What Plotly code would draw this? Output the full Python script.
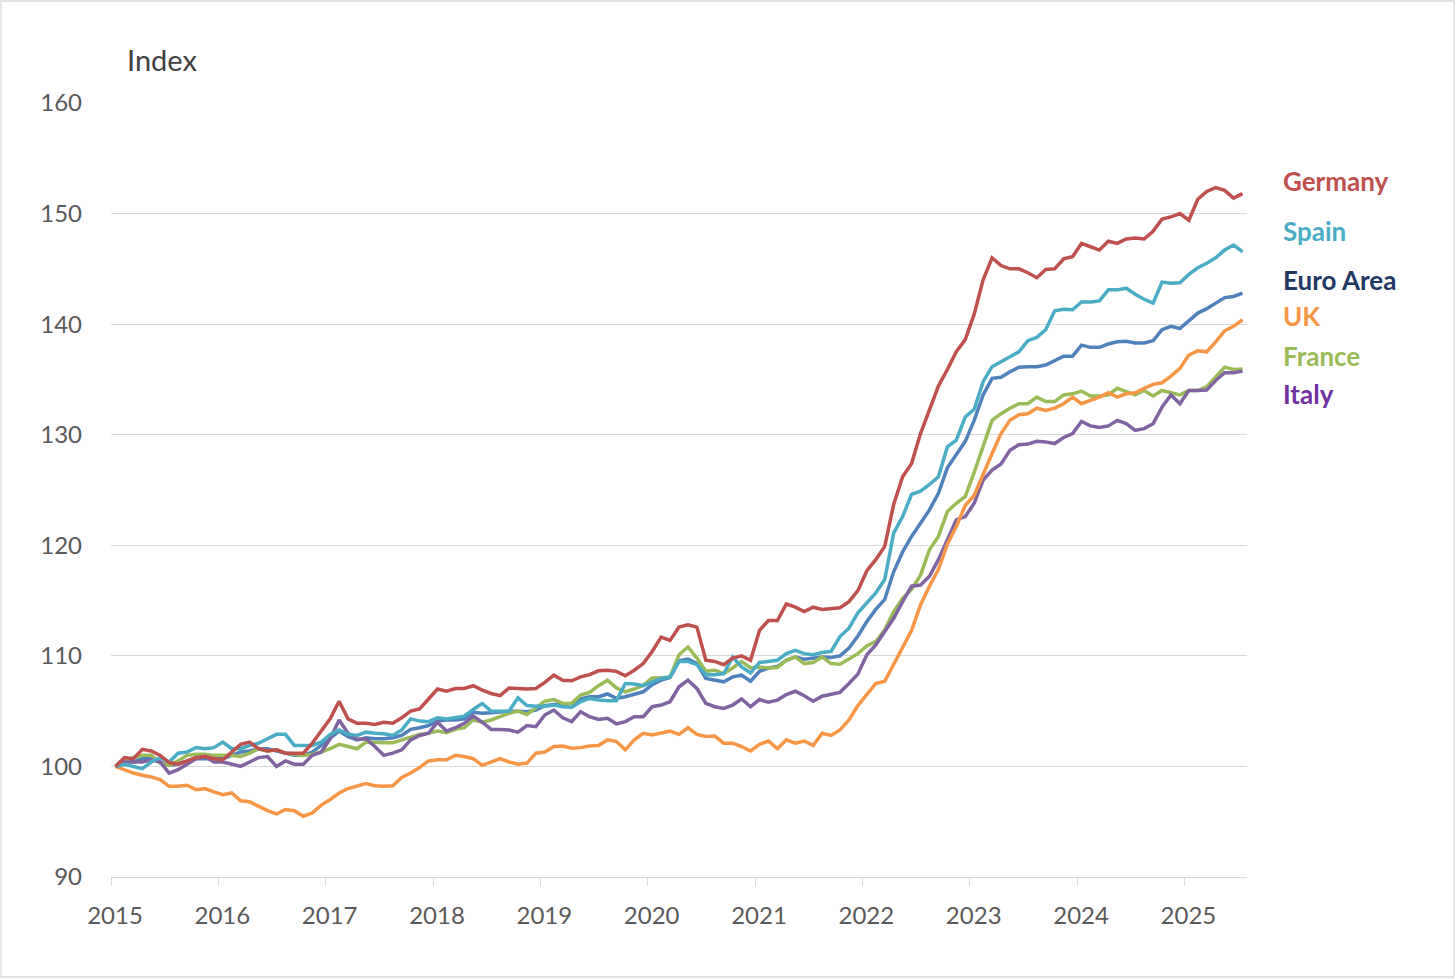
import plotly.graph_objects as go
import pandas as pd

months = pd.date_range("2015-01-01", periods=127, freq="MS")
years = [str(y) for y in range(2015, 2026)]

germany = [100.0, 100.8, 100.7, 101.55, 101.4, 101.0, 100.35, 100.2, 100.5, 100.8, 100.9, 100.7,
           100.6, 101.3, 102.0, 102.2, 101.6, 101.4, 101.5, 101.2, 101.2, 101.2, 102.1, 103.2,
           104.3, 105.9, 104.3, 103.9, 103.9, 103.8, 104.0, 103.9, 104.4, 105.0, 105.2, 106.1,
           107.0, 106.8, 107.05, 107.05, 107.3, 106.9, 106.6, 106.4, 107.1, 107.05, 107.0, 107.05,
           107.6, 108.25, 107.8, 107.75, 108.1, 108.3, 108.65, 108.7, 108.6, 108.2, 108.7, 109.3,
           110.4, 111.7, 111.4, 112.6, 112.8, 112.6, 109.6, 109.5, 109.2, 109.8, 110.0, 109.6,
           112.3, 113.2, 113.2, 114.7, 114.4, 114.0, 114.4, 114.2, 114.3, 114.35, 114.9, 115.9,
           117.7, 118.7, 119.9, 123.7, 126.2, 127.4, 130.1, 132.2, 134.4, 135.9, 137.5, 138.6,
           140.9, 144.0, 146.0, 145.3, 145.0, 145.0, 144.65, 144.2, 144.95, 145.0, 145.9, 146.1,
           147.3, 147.0, 146.7, 147.5, 147.3, 147.7, 147.8, 147.7, 148.4, 149.5, 149.7, 150.0,
           149.4, 151.3, 152.0, 152.35, 152.1, 151.4, 151.8]

spain = [100.0, 100.2, 100.0, 99.8, 100.4, 100.8, 100.4, 101.2, 101.3, 101.7, 101.6, 101.7,
         102.2, 101.6, 101.6, 101.9, 102.1, 102.5, 102.9, 102.9, 101.9, 101.9, 101.9, 102.2,
         102.9, 103.3, 102.9, 102.8, 103.1, 103.0, 102.95, 102.8, 103.3, 104.3, 104.1, 104.05,
         104.4, 104.3, 104.4, 104.55, 105.15, 105.7, 105.0, 105.0, 105.0, 106.2, 105.5, 105.45,
         105.45, 105.55, 105.4, 105.35, 105.85, 106.15, 106.0, 105.95, 105.95, 107.5, 107.45, 107.3,
         107.65, 107.95, 108.1, 109.5, 109.5, 109.2, 108.3, 108.3, 108.4, 109.9, 109.0, 108.45,
         109.4, 109.5, 109.6, 110.2, 110.5, 110.2, 110.1, 110.3, 110.4, 111.75, 112.5, 113.9,
         114.8, 115.7, 116.9, 121.1, 122.6, 124.6, 124.9, 125.5, 126.2, 128.9, 129.5, 131.6,
         132.3, 134.8, 136.15, 136.6, 137.1, 137.5, 138.5, 138.8, 139.5, 141.2, 141.35, 141.3,
         142.0, 142.0, 142.1, 143.1, 143.1, 143.25, 142.7, 142.25, 141.9, 143.8, 143.7, 143.75,
         144.5, 145.1, 145.5, 146.0, 146.7, 147.15, 146.55]

euro_area = [100.0, 100.5, 100.4, 100.7, 100.7, 100.4, 100.1, 100.2, 100.5, 100.7, 100.7, 100.7,
             100.7, 101.0, 101.3, 101.4, 101.6, 101.6, 101.4, 101.2, 101.0, 101.0, 101.3, 101.9,
             102.6, 103.2, 102.7, 102.4, 102.6, 102.5, 102.5, 102.6, 102.8, 103.35, 103.5, 103.7,
             104.1, 104.2, 104.2, 104.3, 104.9, 104.8, 104.85, 104.95, 105.0, 105.0, 104.95, 105.1,
             105.5, 105.6, 105.6, 105.7, 106.1, 106.3, 106.3, 106.55, 106.15, 106.3, 106.55, 106.75,
             107.4, 107.8, 108.05, 109.55, 109.7, 109.3, 107.95, 107.8, 107.65, 108.1, 108.25, 107.7,
             108.6, 108.9, 109.05, 109.6, 109.9, 109.7, 109.8, 109.9, 109.85, 110.0, 110.7, 111.8,
             113.1, 114.2, 115.1, 117.6, 119.4, 120.8, 122.0, 123.2, 124.7, 127.0, 128.2, 129.4,
             131.3, 133.6, 135.1, 135.2, 135.7, 136.1, 136.15, 136.15, 136.3, 136.7, 137.1, 137.1,
             138.1, 137.9, 137.9, 138.2, 138.4, 138.45, 138.3, 138.3, 138.5, 139.5, 139.8, 139.6,
             140.3, 141.0, 141.4, 141.9, 142.4, 142.5, 142.8]

uk = [100.0, 99.7, 99.4, 99.2, 99.05, 98.8, 98.2, 98.2, 98.3, 97.9, 98.0, 97.7,
      97.45, 97.6, 96.9, 96.8, 96.4, 96.0, 95.7, 96.1, 96.0, 95.5, 95.8, 96.5,
      97.0, 97.6, 98.0, 98.2, 98.45, 98.25, 98.2, 98.25, 99.0, 99.4, 99.9, 100.5,
      100.6, 100.6, 101.0, 100.9, 100.7, 100.1, 100.4, 100.7, 100.4, 100.2, 100.3, 101.2,
      101.3, 101.8, 101.85, 101.65, 101.7, 101.85, 101.9, 102.4, 102.25, 101.5, 102.4, 103.0,
      102.85, 103.05, 103.2, 102.9, 103.5, 102.9, 102.7, 102.75, 102.1, 102.1, 101.8, 101.4,
      102.0, 102.3, 101.6, 102.4, 102.1, 102.3, 101.9, 103.0, 102.8, 103.3, 104.2, 105.5,
      106.5, 107.5, 107.7, 109.2, 110.7, 112.3, 114.6, 116.3, 117.8, 120.1, 121.7, 123.6,
      124.5, 126.5, 128.3, 130.1, 131.3, 131.8, 131.9, 132.4, 132.2, 132.4, 132.8, 133.4,
      132.8, 133.1, 133.4, 133.8, 133.4, 133.7, 133.8, 134.2, 134.55, 134.7, 135.3, 136.0,
      137.2, 137.6, 137.5, 138.4, 139.4, 139.8, 140.4]

france = [100.0, 100.5, 100.8, 101.0, 101.0, 100.3, 100.1, 100.5, 101.0, 101.1, 101.1, 101.0,
          101.0, 101.0, 100.9, 101.2, 101.6, 101.4, 101.5, 101.2, 101.1, 101.0, 101.1, 101.3,
          101.6, 102.0, 101.8, 101.6, 102.2, 102.15, 102.15, 102.15, 102.4, 102.7, 102.9, 103.0,
          103.2, 103.05, 103.35, 103.5, 104.2, 104.0, 104.2, 104.5, 104.8, 105.0, 104.7, 105.3,
          105.9, 106.05, 105.7, 105.7, 106.45, 106.7, 107.3, 107.8, 107.1, 106.75, 107.0, 107.35,
          108.0, 108.0, 108.1, 110.1, 110.8, 109.8, 108.6, 108.7, 108.4, 108.9, 109.5, 108.9,
          109.0, 108.9, 108.95, 109.6, 109.9, 109.3, 109.4, 109.9, 109.3, 109.25, 109.7, 110.2,
          110.9, 111.3, 112.35, 114.0, 115.2, 116.0, 117.3, 119.6, 120.8, 123.05, 123.8, 124.4,
          126.6, 128.9, 131.3, 131.9, 132.4, 132.8, 132.8, 133.4, 133.0, 133.0, 133.6, 133.7,
          133.95, 133.5, 133.5, 133.6, 134.2, 133.9, 133.6, 134.0, 133.5, 134.0, 133.8, 133.6,
          134.0, 134.0, 134.35, 135.25, 136.1, 135.9, 135.95]

italy = [100.0, 100.4, 100.4, 100.4, 100.6, 100.4, 99.4, 99.7, 100.2, 100.7, 100.9, 100.4,
         100.4, 100.2, 100.0, 100.4, 100.8, 100.9, 100.0, 100.5, 100.2, 100.2, 101.0, 101.3,
         102.5, 104.2, 103.0, 102.45, 102.5, 101.8, 101.0, 101.2, 101.5, 102.4, 102.8, 103.0,
         104.0, 103.2, 103.5, 103.9, 104.55, 104.0, 103.35, 103.35, 103.3, 103.1, 103.7, 103.6,
         104.65, 105.1, 104.4, 104.05, 104.95, 104.5, 104.25, 104.35, 103.85, 104.05, 104.5, 104.5,
         105.4, 105.55, 105.85, 107.2, 107.8, 107.05, 105.7, 105.4, 105.25, 105.55, 106.1, 105.4,
         106.05, 105.8, 106.0, 106.5, 106.8, 106.4, 105.9, 106.35, 106.5, 106.7, 107.5, 108.35,
         110.1, 111.0, 112.2, 113.4, 114.9, 116.3, 116.4, 117.2, 118.7, 120.5, 122.3, 122.6,
         123.8, 125.9, 126.8, 127.35, 128.6, 129.1, 129.15, 129.4, 129.35, 129.2, 129.75, 130.1,
         131.2, 130.8, 130.65, 130.8, 131.3, 131.0, 130.4, 130.55, 131.0, 132.5, 133.6, 132.8,
         134.0, 134.0, 134.05, 134.9, 135.6, 135.6, 135.75]

series = [
    ("Euro Area", euro_area, "#4F81BD", "#1F3864"),
    ("France", france, "#9BBB59", "#9BBB59"),
    ("Italy", italy, "#8064A2", "#7030A0"),
    ("UK", uk, "#F79646", "#F79646"),
    ("Spain", spain, "#4BACC6", "#4BACC6"),
    ("Germany", germany, "#C0504D", "#C0504D"),
]

# label positions (pixels) for the end-of-line names
label_y_px = {"Germany": 181, "Spain": 231, "Euro Area": 280, "UK": 316, "France": 356, "Italy": 394}

W, H = 1456, 979
ML, MR, MT, MB = 111, 209, 103, 102
PW, PH = W - ML - MR, H - MT - MB

x = list(range(len(months)))

fig = go.Figure()
for name, vals, col, _ in series:
    fig.add_trace(go.Scatter(x=x, y=vals, mode="lines", name=name,
                             line=dict(color=col, width=3.5), showlegend=False))

for name, vals, col, tcol in series:
    fig.add_annotation(x=(1281 - ML) / PW, y=(H - MB - label_y_px[name]) / PH,
                       xref="paper", yref="paper", xanchor="left", yanchor="middle",
                       text=f"<b>{name}</b>", showarrow=False,
                       font=dict(family="Lato", size=26, color=tcol))

fig.add_annotation(x=(125 - ML) / PW, y=(H - MB - 60) / PH, xref="paper", yref="paper",
                   xanchor="left", yanchor="middle", text="Index", showarrow=False,
                   font=dict(family="Lato", size=29, color="#404040"))

# outer chart border
fig.add_shape(type="rect", xref="paper", yref="paper",
              x0=(1 - ML) / PW, x1=(1454 - ML) / PW,
              y0=(H - MB - 977) / PH, y1=(H - MB - 1) / PH,
              line=dict(color="#d9d9d9", width=1.3), fillcolor="rgba(0,0,0,0)", layer="below")

fig.update_layout(
    width=W, height=H,
    margin=dict(l=ML, r=MR, t=MT, b=MB),
    paper_bgcolor="white", plot_bgcolor="white",
    font=dict(family="Lato", color="#595959"),
    xaxis=dict(range=[-0.5, len(months) - 0.5],
               tickmode="array",
               tickvals=[12 * k - 0.5 for k in range(len(years))],
               ticktext=years,
               ticklabelshift=4,
               ticks="outside", ticklen=8, tickwidth=1.3, tickcolor="#d9d9d9",
               showline=True, linecolor="#d9d9d9", linewidth=1.3,
               showgrid=False, zeroline=False,
               tickfont=dict(size=24, color="#595959"),
               ticklabelstandoff=9),
    yaxis=dict(range=[90, 160], dtick=10, tick0=90,
               showgrid=True, gridcolor="#d9d9d9", gridwidth=1.3,
               zeroline=False, showline=False, ticks="",
               tickfont=dict(size=24, color="#595959"),
               ticklabelstandoff=28),
)

fig.write_html("out.html",
               config={"displayModeBar": False},
               post_script="document.body.style.margin='0px';document.body.style.overflow='hidden';")
